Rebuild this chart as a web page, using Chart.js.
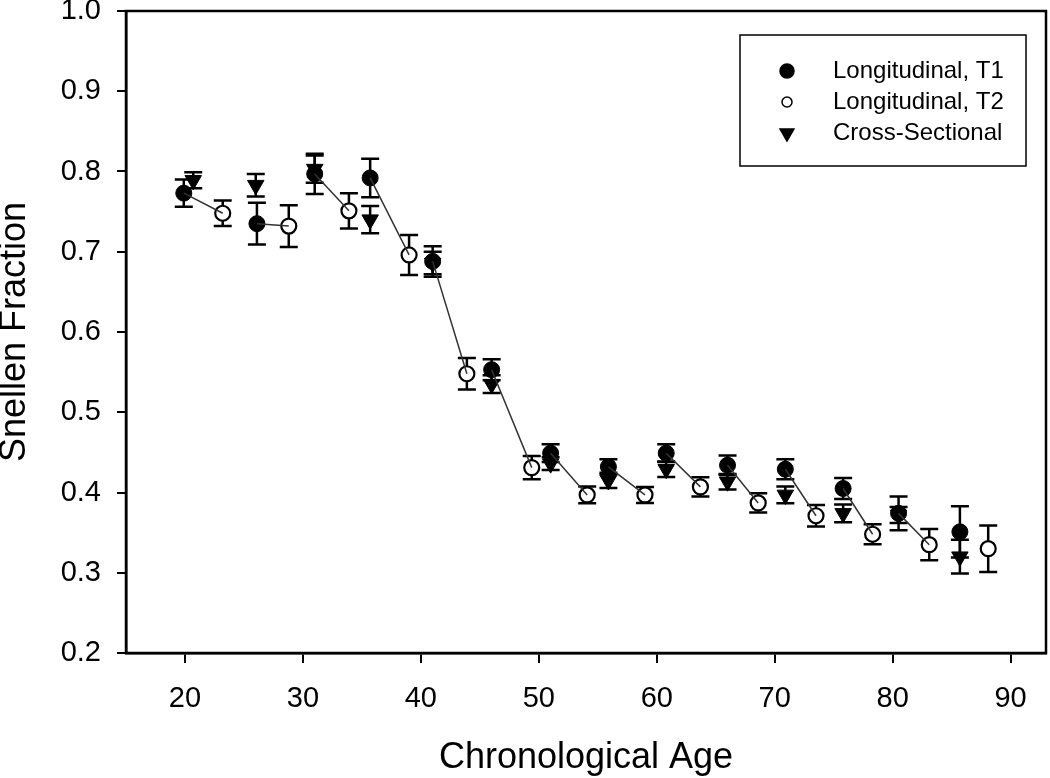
<!DOCTYPE html>
<html>
<head>
<meta charset="utf-8">
<script src="https://cdn.jsdelivr.net/npm/chart.js@4/dist/chart.umd.min.js"></script>
<style>
  html, body { margin: 0; padding: 0; background: #fff; }
  canvas { display: block; }
</style>
</head>
<body>
<canvas id="snellenChart" width="1050" height="778"></canvas>
<script>
// values (age, mean Snellen fraction, half error bar)
const t1Ages = [19.9, 26.1, 31.0, 35.7, 41.0, 46.0, 51.0, 55.9, 60.8, 66.0, 70.9, 75.8, 80.5, 85.7];
const t1Means = [0.773, 0.735, 0.797, 0.792, 0.688, 0.553, 0.449, 0.432, 0.449, 0.434, 0.429, 0.405, 0.374, 0.351];
const t1Errors = [0.017, 0.026, 0.025, 0.024, 0.019, 0.013, 0.011, 0.0095, 0.011, 0.012, 0.0125, 0.013, 0.021, 0.032];

const t2Ages = [23.2, 28.8, 33.9, 39.0, 43.9, 49.4, 54.1, 59.0, 63.7, 68.6, 73.5, 78.3, 83.1, 88.1];
const t2Means = [0.748, 0.732, 0.751, 0.696, 0.548, 0.431, 0.397, 0.397, 0.407, 0.387, 0.371, 0.348, 0.335, 0.330];
const t2Errors = [0.016, 0.026, 0.022, 0.025, 0.0195, 0.0145, 0.0105, 0.01, 0.012, 0.012, 0.0135, 0.0125, 0.0195, 0.029];

const crossAges = [20.7, 26.0, 31.0, 35.7, 41.0, 46.0, 51.0, 55.9, 60.8, 66.0, 70.9, 75.8, 80.5, 85.7];
const crossMeans = [0.789, 0.783, 0.803, 0.740, 0.686, 0.535, 0.436, 0.415, 0.429, 0.4135, 0.397, 0.374, 0.372, 0.320];
const crossErrors = [0.010, 0.014, 0.017, 0.017, 0.014, 0.011, 0.008, 0.0095, 0.0097, 0.0097, 0.0104, 0.011, 0.010, 0.021];

// T1 -> T2 pairs joined by a line (last pair is not joined)
const pairLinked = [true, true, true, true, true, true, true, true, true, true, true, true, true, false];

const xTicks = [20, 30, 40, 50, 60, 70, 80, 90];
const yTicks = [0.2, 0.3, 0.4, 0.5, 0.6, 0.7, 0.8, 0.9, 1.0];

const legendLabels = ["Longitudinal, T1", "Longitudinal, T2", "Cross-Sectional"];

const FONT = "'Liberation Sans', Arial, Helvetica, sans-serif";

function toPoints(xs, ys) {
  return xs.map((x, i) => ({ x: x, y: ys[i] }));
}

function pairLines() {
  const pts = [];
  t1Ages.forEach((age, i) => {
    if (!pairLinked[i]) return;
    pts.push({ x: age, y: t1Means[i] });
    pts.push({ x: t2Ages[i], y: t2Means[i] });
    pts.push({ x: t2Ages[i], y: null });
  });
  return pts;
}

// error bars drawn under the markers
const errorBars = {
  id: "errorBars",
  beforeDatasetsDraw(chart) {
    const ctx = chart.ctx;
    const xs = chart.scales.x;
    const ys = chart.scales.y;
    ctx.save();
    ctx.strokeStyle = "#000";
    ctx.lineWidth = 2.5;
    chart.data.datasets.forEach((ds) => {
      if (!ds.errors) return;
      ds.data.forEach((p, i) => {
        const px = xs.getPixelForValue(p.x);
        const top = ys.getPixelForValue(p.y + ds.errors[i]);
        const bottom = ys.getPixelForValue(p.y - ds.errors[i]);
        ctx.beginPath();
        ctx.moveTo(px, top);
        ctx.lineTo(px, bottom);
        ctx.moveTo(px - 9, top);
        ctx.lineTo(px + 9, top);
        ctx.moveTo(px - 9, bottom);
        ctx.lineTo(px + 9, bottom);
        ctx.stroke();
      });
    });
    ctx.restore();
  },
};

// closed frame + boxed legend inside the plot
const frameAndLegend = {
  id: "frameAndLegend",
  afterDraw(chart) {
    const ctx = chart.ctx;
    const a = chart.chartArea;
    ctx.save();
    ctx.strokeStyle = "#000";
    ctx.lineWidth = 2.5;
    ctx.strokeRect(a.left, a.top, a.right - a.left, a.bottom - a.top);

    // legend box
    ctx.lineWidth = 1.5;
    ctx.strokeRect(740, 35, 286, 131);
    const markers = [
      { pointStyle: "circle", radius: 7, rotation: 0, borderWidth: 1, fill: "#000" },
      { pointStyle: "circle", radius: 5, rotation: 0, borderWidth: 1.5, fill: "#fff" },
      { pointStyle: "triangle", radius: 8, rotation: 180, borderWidth: 1, fill: "#000" },
    ];
    ctx.font = "24px " + FONT;
    ctx.textBaseline = "middle";
    ctx.textAlign = "left";
    legendLabels.forEach((label, i) => {
      const y = 71 + i * 31;
      ctx.fillStyle = markers[i].fill;
      ctx.strokeStyle = "#000";
      Chart.helpers.drawPoint(ctx, markers[i], 787, y);
      ctx.fillStyle = "#000";
      ctx.fillText(label, 833, y);
    });
    ctx.restore();
  },
};

const context = document.getElementById("snellenChart").getContext("2d");

new Chart(context, {
  type: "scatter",
  data: {
    datasets: [
      {
        type: "line",
        label: "pairs",
        data: pairLines(),
        borderColor: "#333",
        borderWidth: 1.5,
        pointRadius: 0,
        spanGaps: false,
        fill: false,
        order: 0,
      },
      {
        label: legendLabels[0],
        data: toPoints(t1Ages, t1Means),
        errors: t1Errors,
        pointStyle: "circle",
        pointRadius: 8,
        backgroundColor: "#000",
        borderColor: "#000",
        borderWidth: 1,
        order: 2,
      },
      {
        label: legendLabels[1],
        data: toPoints(t2Ages, t2Means),
        errors: t2Errors,
        pointStyle: "circle",
        pointRadius: 7.5,
        backgroundColor: "#fff",
        borderColor: "#000",
        borderWidth: 2.2,
        order: 1,
      },
      {
        label: legendLabels[2],
        data: toPoints(crossAges, crossMeans),
        errors: crossErrors,
        pointStyle: "triangle",
        pointRotation: 180,
        pointRadius: 9.5,
        backgroundColor: "#000",
        borderColor: "#000",
        borderWidth: 1,
        order: 3,
      },
    ],
  },
  options: {
    responsive: false,
    animation: false,
    devicePixelRatio: 1,
    layout: { autoPadding: false, padding: { top: 11, right: 4, left: 0, bottom: 0 } },
    plugins: {
      legend: { display: false },
      tooltip: { enabled: false },
    },
    scales: {
      x: {
        type: "linear",
        min: 15,
        max: 93,
        afterBuildTicks: (scale) => {
          scale.ticks = xTicks.map((v) => ({ value: v }));
        },
        afterFit: (scale) => {
          scale.height = 125;
          scale.paddingLeft = 0;
          scale.paddingRight = 0;
        },
        grid: {
          drawOnChartArea: false,
          drawTicks: true,
          tickLength: 10,
          tickColor: "#000",
          lineWidth: 2,
        },
        border: { display: true, color: "#000", width: 2.5 },
        ticks: {
          color: "#000",
          padding: 19,
          font: { family: FONT, size: 29 },
          maxRotation: 0,
        },
        title: {
          display: true,
          text: "Chronological Age",
          color: "#000",
          font: { family: FONT, size: 36, lineHeight: 1 },
          padding: { top: 0, bottom: 2 },
        },
      },
      y: {
        type: "linear",
        min: 0.2,
        max: 1.0,
        afterBuildTicks: (scale) => {
          scale.ticks = yTicks.map((v) => ({ value: v }));
        },
        afterFit: (scale) => {
          scale.width = 126;
          scale.paddingTop = 0;
          scale.paddingBottom = 0;
        },
        grid: {
          drawOnChartArea: false,
          drawTicks: true,
          tickLength: 9,
          tickColor: "#000",
          lineWidth: 2,
        },
        border: { display: true, color: "#000", width: 2.5 },
        ticks: {
          color: "#000",
          padding: 16,
          font: { family: FONT, size: 29 },
          callback: (v) => Number(v).toFixed(1),
        },
        title: {
          display: true,
          text: "Snellen Fraction",
          color: "#000",
          font: { family: FONT, size: 36, lineHeight: 0.75 },
          padding: { top: 2, bottom: 0 },
        },
      },
    },
  },
  plugins: [errorBars, frameAndLegend],
});
</script>
</body>
</html>
